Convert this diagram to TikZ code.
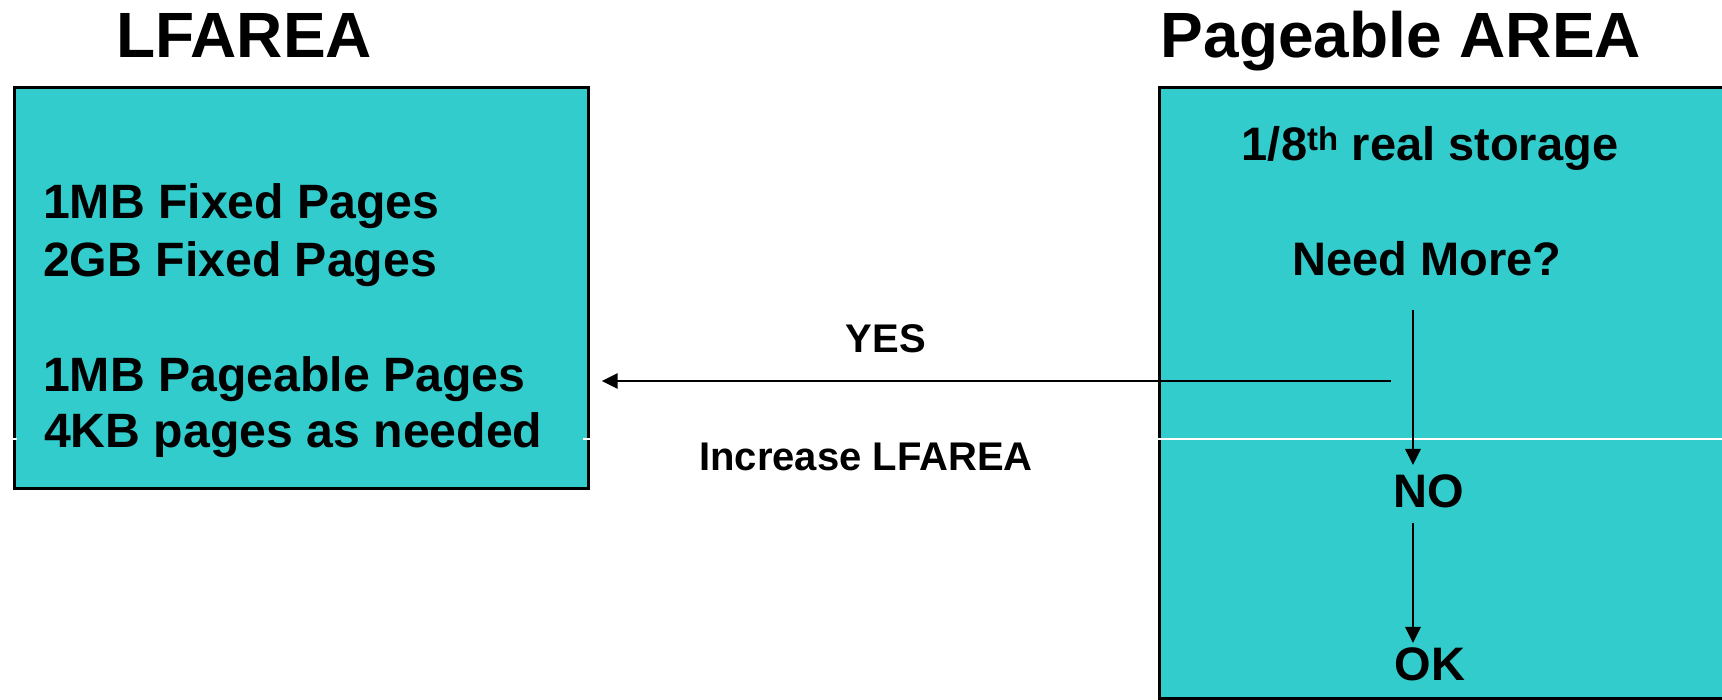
\documentclass[tikz,border=0pt]{standalone}
\usepackage{fontspec}
\setmainfont{Liberation Sans}
\usetikzlibrary{arrows.meta}
\definecolor{panelteal}{RGB}{51,204,204}
\begin{document}
\begin{tikzpicture}[x=1pt, y=-1pt,
  panel/.style={draw=black, line width=2.6pt, fill=panelteal, inner sep=0pt, anchor=north west},
  title/.style={font=\fontsize{64}{70}\selectfont\bfseries, inner sep=0pt, anchor=base},
  body/.style={font=\fontsize{47}{56}\selectfont\bfseries, inner sep=0pt, anchor=base},
  listline/.style={font=\fontsize{48.2}{56}\selectfont\bfseries, inner sep=0pt, anchor=base west},
  lbl/.style={font=\fontsize{40}{46}\selectfont\bfseries, inner sep=0pt, anchor=base},
  arr/.style={line width=2.9pt, -{Triangle[length=16pt,width=15pt]}}]
\useasboundingbox (0,0) rectangle (1722,699);

% panels
\node[panel, minimum width=574pt, minimum height=401pt] (lfbox) at (13,86) {};
\node[panel, minimum width=590pt, minimum height=611pt] (pgbox) at (1158,86) {};

% thin white seam across the panels
\draw[white, line width=1.2pt] (1154,439) -- (1722,439);
\draw[white, line width=1.2pt] (9,439) -- (17,439);
\draw[white, line width=1.2pt] (583,439) -- (591,439);

% headings
\node[title] (lftitle) at (244,57) {LFAREA};
\node[title] (pgtitle) at (1401,57) {Pageable AREA};

% large-frame area contents
\node[listline] (l1) at (43,218) {1MB Fixed Pages};
\node[listline] (l2) at (43,276) {2GB Fixed Pages};
\node[listline] (l3) at (43,391) {1MB Pageable Pages};
\node[listline] (l4) at (44,447) {4KB pages as needed};

% pageable area flow
\node[body] (real) at (1430,160) {1/8\textsuperscript{th} real storage};
\node[body] (need) at (1427,275) {Need More?};
\node[body] (no) at (1429,507) {NO};
\node[body] (ok) at (1430,680) {OK};

\coordinate (d1) at (1413,310);
\coordinate (d2) at (1413,523);
\draw[arr] (d1) -- ([yshift=9pt]no.north -| d1);
\draw[arr] (d2) -- ([yshift=4pt]ok.north -| d2);

% YES branch back to the large-frame area
\coordinate (ystart) at (1391,381);
\draw[arr] (ystart) -- ([xshift=12pt]lfbox.east |- ystart);
\node[lbl] (yes) at (886,352) {YES};
\node[lbl] (inc) at (866,470) {Increase LFAREA};
\end{tikzpicture}
\end{document}
